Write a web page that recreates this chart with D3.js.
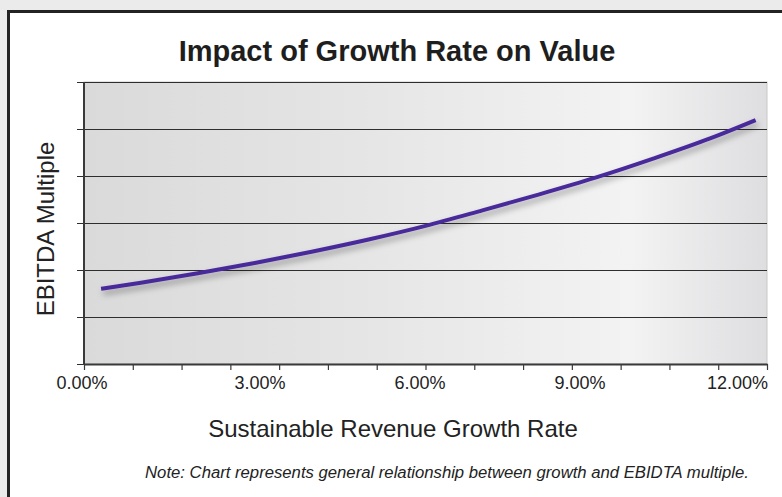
<!DOCTYPE html>
<html>
<head>
<meta charset="utf-8">
<script src="https://cdn.jsdelivr.net/npm/d3@7"></script>
<style>
  html, body { margin: 0; padding: 0; background: #ebebeb; }
  svg { display: block; }
</style>
</head>
<body>
<svg id="chart" width="782" height="497"></svg>
<script>
// ---- Data ----
const growthRates = [0.3, 1, 2, 3, 4, 5, 6, 7, 8, 9, 10, 11, 11.8];          // % growth
const ebitdaMultiples = [1.60, 1.73, 1.93, 2.15, 2.39, 2.65, 2.94, 3.27, 3.61, 3.97, 4.37, 4.80, 5.19];
const xTickLabels = ["0.00%", "3.00%", "6.00%", "9.00%", "12.00%"];
const yGridValues = [0, 1, 2, 3, 4, 5, 6];
const xMinorTickCount = 14;
const titleText = "Impact of Growth Rate on Value";
const xTitle = "Sustainable Revenue Growth Rate";
const yTitle = "EBITDA Multiple";
const noteText = "Note: Chart represents general relationship between growth and EBIDTA multiple.";

const svg = d3.select("#chart");
const W = 782, H = 497;
const plot = { left: 84, right: 767, top: 82, bottom: 364 };
const FONT = "Liberation Sans, Arial, Helvetica, sans-serif";

// page background & frame
svg.append("rect").attr("x", 0).attr("y", 0).attr("width", W).attr("height", H).attr("fill", "#ebebeb");
svg.append("rect").attr("x", 8.5).attr("y", 11.5).attr("width", W + 20).attr("height", H + 20)
  .attr("fill", "#ffffff").attr("stroke", "#232323").attr("stroke-width", 3);

const defs = svg.append("defs");
const grad = defs.append("linearGradient").attr("id", "bg").attr("x1", "0%").attr("x2", "100%").attr("y1", "0%").attr("y2", "0%");
grad.append("stop").attr("offset", "0%").attr("stop-color", "#dadadb");
grad.append("stop").attr("offset", "40%").attr("stop-color", "#e5e5e6");
grad.append("stop").attr("offset", "80%").attr("stop-color", "#f3f3f4");
grad.append("stop").attr("offset", "100%").attr("stop-color", "#dedee0");
const flt = defs.append("filter").attr("id", "shadow").attr("x", "-10%").attr("y", "-50%").attr("width", "120%").attr("height", "200%");
flt.append("feDropShadow").attr("dx", 2).attr("dy", 4).attr("stdDeviation", 3)
  .attr("flood-color", "#000").attr("flood-opacity", 0.35);

// scales
const x = d3.scaleLinear().domain([0, 12]).range([plot.left, plot.right]);
const y = d3.scaleLinear().domain([0, 6]).range([plot.bottom, plot.top]);
// label layout: end labels pinned to the axis ends, middle labels evenly spaced
const xLabelPos = d3.scalePoint().domain(xTickLabels).range([100, 740]);

// plot background
svg.append("rect").attr("x", plot.left).attr("y", plot.top)
  .attr("width", plot.right - plot.left).attr("height", plot.bottom - plot.top)
  .attr("fill", "url(#bg)").attr("stroke", "#c8c8c8").attr("stroke-width", 1);

// horizontal gridlines (with left tick stubs) via axis
const yAxis = d3.axisLeft(y).tickValues(yGridValues).tickSize(-(plot.right - plot.left)).tickSizeOuter(0).tickFormat("");
const yg = svg.append("g").attr("transform", `translate(${plot.left},0)`).call(yAxis);
yg.select(".domain").remove();
yg.selectAll(".tick line").attr("stroke", "#2e2e2e").attr("stroke-width", 1.2).attr("x1", -7);

// y axis line
svg.append("line").attr("x1", plot.left).attr("x2", plot.left).attr("y1", plot.top).attr("y2", plot.bottom + 1)
  .attr("stroke", "#3a3a3a").attr("stroke-width", 2);

// x axis minor ticks
const xMinor = d3.range(xMinorTickCount + 1).map(i => 12 * i / xMinorTickCount);
const xAxisMinor = d3.axisBottom(x).tickValues(xMinor).tickSize(6).tickSizeOuter(0).tickFormat("");
const xg = svg.append("g").attr("transform", `translate(0,${plot.bottom})`).call(xAxisMinor);
xg.select(".domain").attr("stroke", "#3a3a3a").attr("stroke-width", 2);
xg.selectAll(".tick line").attr("stroke", "#3a3a3a").attr("stroke-width", 1.2);

// x labels
const nL = xTickLabels.length;
svg.append("g").selectAll("text").data(xTickLabels).join("text")
  .attr("x", (d, i) => i === 0 ? plot.left - 2 : (i === nL - 1 ? plot.right + 1 : xLabelPos(d)))
  .attr("y", 389)
  .attr("text-anchor", (d, i) => i === nL - 1 ? "end" : "middle")
  .attr("font-family", FONT)
  .attr("font-size", 18)
  .attr("fill", "#222")
  .text(d => d);

// curve
const line = d3.line().x((d, i) => x(growthRates[i])).y(d => y(d)).curve(d3.curveMonotoneX);
svg.append("path").datum(ebitdaMultiples).attr("d", line)
  .attr("fill", "none").attr("stroke", "#4a2c9b").attr("stroke-width", 4)
  .attr("stroke-linecap", "butt").attr("filter", "url(#shadow)");

// titles
svg.append("text").attr("x", 397).attr("y", 61).attr("text-anchor", "middle")
  .attr("font-family", FONT).attr("font-weight", "bold")
  .attr("font-size", 29).attr("fill", "#1e1e1e").text(titleText);

svg.append("text").attr("x", 393).attr("y", 437).attr("text-anchor", "middle")
  .attr("font-family", FONT)
  .attr("font-size", 24).attr("fill", "#222").text(xTitle);

svg.append("text").attr("transform", "translate(54,229) rotate(-90)").attr("text-anchor", "middle")
  .attr("font-family", FONT)
  .attr("font-size", 24).attr("fill", "#222").text(yTitle);

svg.append("text").attr("x", 447).attr("y", 478).attr("text-anchor", "middle")
  .attr("font-family", FONT).attr("font-style", "italic")
  .attr("font-size", 16.7).attr("fill", "#222").text(noteText);
</script>
</body>
</html>
